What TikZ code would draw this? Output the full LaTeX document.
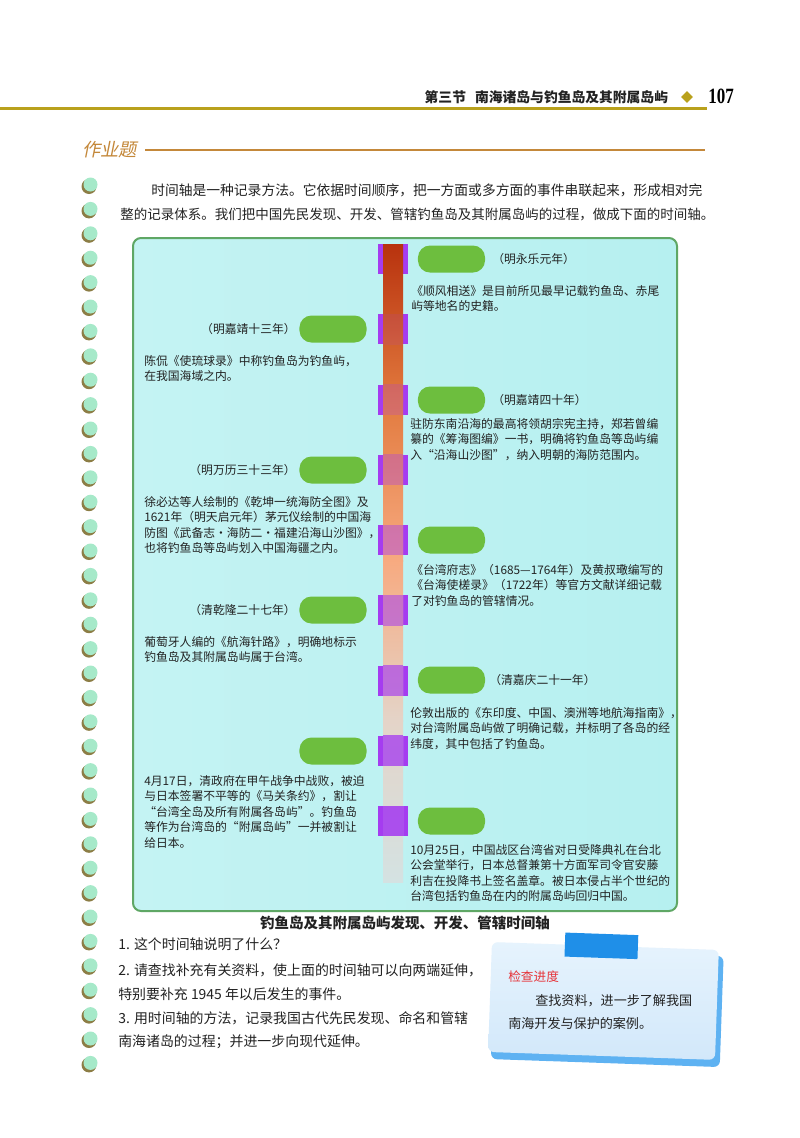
\documentclass[tikz,border=0pt]{standalone}
\usepackage{fontspec}
\setmainfont{Noto Sans CJK SC}
\newfontfamily\numfont{Liberation Serif}
\newfontfamily\xiefont{Noto Sans CJK SC}[FakeSlant=0.2]
\usetikzlibrary{shapes.geometric}

\definecolor{headgold}{HTML}{B9A11C}
\definecolor{zuoyecolor}{HTML}{C4883A}
\definecolor{dotmint}{HTML}{A6E9C9}
\definecolor{dotshadow}{HTML}{8C7D45}
\definecolor{boxborder}{HTML}{5FA765}
\definecolor{boxL}{HTML}{C4F3F3}
\definecolor{boxM}{HTML}{E4FAFA}
\definecolor{boxR}{HTML}{B6F0F0}
\definecolor{pillgreen}{HTML}{6DBE3E}
\definecolor{kuaizi}{HTML}{A53CF0}
\definecolor{barA}{HTML}{B8320E}
\definecolor{barB}{HTML}{E27A3E}
\definecolor{barC}{HTML}{F7AA80}
\definecolor{barD}{HTML}{E4D4C8}
\definecolor{barE}{HTML}{D4E2E2}
\definecolor{textdark}{HTML}{222222}
\definecolor{kashadow}{HTML}{5EB2F2}
\definecolor{kaTop}{HTML}{E6F3FD}
\definecolor{kaBottom}{HTML}{D2E8FA}
\definecolor{jiaodai}{HTML}{1F8FE8}
\definecolor{jiancha}{HTML}{E6353B}

\newcommand{\zw}{\fontsize{8.4}{11}\selectfont}

\begin{document}
\begin{tikzpicture}[x=0.025cm, y=-0.025cm,
    pill/.style={fill=pillgreen, rounded corners=0.3cm, minimum width=1.675cm, minimum height=0.675cm, inner sep=0},
    fangkuai/.style={fill=kuaizi, minimum size=0.75cm, inner sep=0},
    nianfen/.style={font=\zw, text=textdark, inner sep=0},
    shiji/.style={font=\zw, text=textdark, align=left, anchor=north west, inner sep=0},
    wenti/.style={font=\fontsize{9.9}{12}\selectfont, text=textdark, anchor=west, inner sep=0},
    zhengwen/.style={font=\fontsize{9.8}{12}\selectfont, text=textdark, anchor=west, inner sep=0}
]
    \useasboundingbox (0,0) rectangle (800,1138);
    \fill[white] (0,0) rectangle (800,1138);

    % --- PAGE HEADER ---
    \draw[headgold, line width=0.075cm] (0,108) -- (707,108);
    \node[anchor=east, font=\bfseries\fontsize{9.8}{12}\selectfont, text=textdark] (jieming) at (673,97) {南海诸岛与钓鱼岛及其附属岛屿};
    \node[anchor=east, font=\bfseries\fontsize{9.8}{12}\selectfont, text=textdark] (jie) at (471,97) {第三节};
    \node[diamond, fill=headgold, minimum size=0.3cm, inner sep=0] (lingxing) at (687,97) {};
    \node[anchor=west, inner sep=0] (yema) at (708,96) {\scalebox{0.78}[1]{\numfont\bfseries\fontsize{15.5}{16}\selectfont 107}};

    % --- ZUOYETI TITLE ---
    \node[anchor=west, font=\xiefont\fontsize{13}{14}\selectfont, text=zuoyecolor, inner sep=0] (zuoye) at (82,150) {作业题};
    \draw[zuoyecolor, line width=0.03cm] ([xshift=0.2cm]zuoye.east) -- (705,150);

    % --- LEFT SPIRAL DOTS ---
    \foreach \i in {0,...,36} {
        \fill[dotshadow] (89,{186.5+24.4*\i}) circle[radius=7.5];
        \fill[dotmint] (90.5,{184.5+24.4*\i}) circle[radius=7];
    }

    % --- INTRO PARAGRAPH ---
    \node[zhengwen] (duan1) at (151,190) {时间轴是一种记录方法。它依据时间顺序，把一方面或多方面的事件串联起来，形成相对完};
    \node[zhengwen, font=\fontsize{9.6}{12}\selectfont] (duan2) at (120,215) {整的记录体系。我们把中国先民发现、开发、管辖钓鱼岛及其附属岛屿的过程，做成下面的时间轴。};

    % --- TIMELINE BOX ---
    \shade[left color=boxL, middle color=boxM, right color=boxR, rounded corners=0.2cm] (133,238) rectangle (677,911);
    \draw[boxborder, line width=0.05cm, rounded corners=0.2cm] (133,238) rectangle (677,911);

    % --- AXIS WITH MARKERS ---
    \foreach \i in {1,...,9} {
        \node[fangkuai] (f\i) at (392.5,{259+70.25*(\i-1)}) {};
    }
    \shade[top color=barA, bottom color=barB] (383,244) rectangle (403,401);
    \shade[top color=barB, bottom color=barC] (383,400) rectangle (403,561);
    \shade[top color=barC, bottom color=barD] (383,560) rectangle (403,721);
    \shade[top color=barD, bottom color=barE] (383,720) rectangle (403,882);
    \foreach \i in {2,...,9} {
        \fill[kuaizi, opacity={0.11*(\i-1)}] (f\i.north west -| 383,0) rectangle (f\i.south west -| 403,0);
    }

    % --- RIGHT EVENTS ---
    \node[pill] (p1) at (451.5,259) {};
    \node[nianfen, anchor=west] (n1) at (492,259) {（明永乐元年）};
    \node[shiji] (t1) at (411,285) {《顺风相送》是目前所见最早记载钓鱼岛、赤尾\\屿等地名的史籍。};

    \node[pill] (p3) at (451.5,400) {};
    \node[nianfen, anchor=west] (n3) at (492,400) {（明嘉靖四十年）};
    \node[shiji] (t3) at (410,418) {驻防东南沿海的最高将领胡宗宪主持，郑若曾编\\纂的《筹海图编》一书，明确将钓鱼岛等岛屿编\\入“沿海山沙图”，纳入明朝的海防范围内。};

    \node[pill] (p5) at (451.5,540) {};
    \node[shiji] (t5) at (411,564) {《台湾府志》（1685—1764年）及黄叔璥编写的\\《台海使槎录》（1722年）等官方文献详细记载\\了对钓鱼岛的管辖情况。};

    \node[pill] (p7) at (451.5,680) {};
    \node[nianfen, anchor=west] (n7) at (489,680) {（清嘉庆二十一年）};
    \node[shiji] (t7) at (410,707) {伦敦出版的《东印度、中国、澳洲等地航海指南》，\\对台湾附属岛屿做了明确记载，并标明了各岛的经\\纬度，其中包括了钓鱼岛。};

    \node[pill] (p9) at (451.5,821) {};
    \node[shiji] (t9) at (410,844) {10月25日，中国战区台湾省对日受降典礼在台北\\公会堂举行，日本总督兼第十方面军司令官安藤\\利吉在投降书上签名盖章。被日本侵占半个世纪的\\台湾包括钓鱼岛在内的附属岛屿回归中国。};

    % --- LEFT EVENTS ---
    \node[pill] (p2) at (333,329) {};
    \node[nianfen, anchor=east] (n2) at (296,329) {（明嘉靖十三年）};
    \node[shiji] (t2) at (144,355) {陈侃《使琉球录》中称钓鱼岛为钓鱼屿，\\在我国海域之内。};

    \node[pill] (p4) at (333,470) {};
    \node[nianfen, anchor=east] (n4) at (296,470) {（明万历三十三年）};
    \node[shiji] (t4) at (144,496) {徐必达等人绘制的《乾坤一统海防全图》及\\1621年（明天启元年）茅元仪绘制的中国海\\防图《武备志·海防二·福建沿海山沙图》，\\也将钓鱼岛等岛屿划入中国海疆之内。};

    \node[pill] (p6) at (333,610) {};
    \node[nianfen, anchor=east] (n6) at (296,610) {（清乾隆二十七年）};
    \node[shiji] (t6) at (144,636) {葡萄牙人编的《航海针路》，明确地标示\\钓鱼岛及其附属岛屿属于台湾。};

    \node[pill] (p8) at (333,751) {};
    \node[shiji] (t8) at (144,775) {4月17日，清政府在甲午战争中战败，被迫\\与日本签署不平等的《马关条约》，割让\\“台湾全岛及所有附属各岛屿”。钓鱼岛\\等作为台湾岛的“附属岛屿”一并被割让\\给日本。};

    % --- CAPTION ---
    \node[font=\bfseries\fontsize{10.3}{12}\selectfont, text=textdark, inner sep=0] (biaoti) at (405,923) {钓鱼岛及其附属岛屿发现、开发、管辖时间轴};

    % --- QUESTIONS ---
    \node[wenti] (q1) at (118,944) {1. 这个时间轴说明了什么？};
    \node[wenti] (q2) at (118,970) {2. 请查找补充有关资料，使上面的时间轴可以向两端延伸，};
    \node[wenti] (q2b) at (118,994) {特别要补充 1945 年以后发生的事件。};
    \node[wenti] (q3) at (118,1018) {3. 用时间轴的方法，记录我国古代先民发现、命名和管辖};
    \node[wenti] (q3b) at (118,1042) {南海诸岛的过程；并进一步向现代延伸。};

    % --- NOTE CARD ---
    \begin{scope}[rotate around={-2:(605,1000)}]
        \fill[kashadow, rounded corners=0.15cm] (493,952) rectangle (722,1063);
        \shade[top color=kaTop, bottom color=kaBottom, rounded corners=0.15cm] (490,946) rectangle (717,1056);
        \fill[jiaodai] (563,934) rectangle (636,958);
    \end{scope}
    \node[anchor=west, font=\fontsize{9}{11}\selectfont, text=jiancha, inner sep=0] (jiancha) at (508,977) {检查进度};
    \node[anchor=west, font=\fontsize{9.3}{11}\selectfont, text=textdark, inner sep=0] (ka1) at (535,1001) {查找资料，进一步了解我国};
    \node[anchor=west, font=\fontsize{9.3}{11}\selectfont, text=textdark, inner sep=0] (ka2) at (508,1024) {南海开发与保护的案例。};
\end{tikzpicture}
\end{document}
